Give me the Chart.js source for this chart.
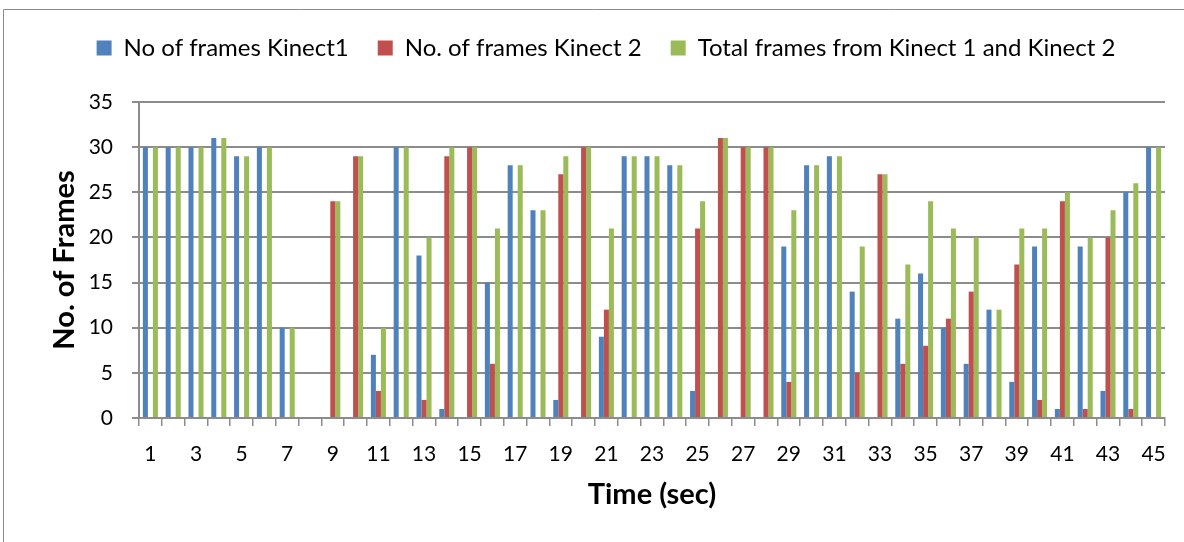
<!DOCTYPE html>
<html>
<head>
<meta charset="utf-8">
<title>Frames per second</title>
<script src="https://cdn.jsdelivr.net/npm/chart.js@4.4.1/dist/chart.umd.min.js"></script>
<style>
    html, body { margin: 0; padding: 0; background: #fff; }
    #wrap { width: 1184px; height: 542px; }
</style>
</head>
<body>
<div id="wrap"><canvas id="frames" width="1184" height="542"></canvas></div>
<script>
// Time axis (seconds)
const seconds = ['1', '2', '3', '4', '5', '6', '7', '8', '9', '10',
    '11', '12', '13', '14', '15', '16', '17', '18', '19', '20',
    '21', '22', '23', '24', '25', '26', '27', '28', '29', '30',
    '31', '32', '33', '34', '35', '36', '37', '38', '39', '40',
    '41', '42', '43', '44', '45'];

// Frames captured per second, null = no frames from that sensor
const kinect1Frames = [30, 30, 30, 31, 29, 30, 10, null, null, null,
    7, 30, 18, 1, null, 15, 28, 23, 2, null,
    9, 29, 29, 28, 3, null, null, null, 19, 28,
    29, 14, null, 11, 16, 10, 6, 12, 4, 19,
    1, 19, 3, 25, 30];

const kinect2Frames = [null, null, null, null, null, null, null, null, 24, 29,
    3, null, 2, 29, 30, 6, null, null, 27, 30,
    12, null, null, null, 21, 31, 30, 30, 4, null,
    null, 5, 27, 6, 8, 11, 14, null, 17, 2,
    24, 1, 20, 1, null];

const totalFrames = [30, 30, 30, 31, 29, 30, 10, null, 24, 29,
    10, 30, 20, 30, 30, 21, 28, 23, 29, 30,
    21, 29, 29, 28, 24, 31, 30, 30, 23, 28,
    29, 19, 27, 17, 24, 21, 20, 12, 21, 21,
    25, 20, 23, 26, 30];

const yTicks = [0, 5, 10, 15, 20, 25, 30, 35];

const FONT = 'Lato, "Open Sans", sans-serif';
const GRID = '#8c8c8c';

// Thin outer frame around the whole chart
const outerFrame = {
    id: 'outerFrame',
    beforeDraw(chart) {
        const ctx = chart.ctx;
        ctx.save();
        ctx.fillStyle = '#fff';
        ctx.fillRect(0, 0, chart.width, chart.height);
        ctx.strokeStyle = '#8c8c8c';
        ctx.lineWidth = 1;
        ctx.beginPath();
        ctx.moveTo(3.5, chart.height);
        ctx.lineTo(3.5, 9.5);
        ctx.lineTo(chart.width, 9.5);
        ctx.stroke();
        ctx.restore();
    }
};

// Reserve a fixed band for the legend above the plot
const legendBand = {
    id: 'legendBand',
    beforeInit(chart) {
        if (!chart.legend) return;
        const fit = chart.legend.fit;
        chart.legend.fit = function () {
            fit.call(this);
            this.height = 95;
        };
    }
};

new Chart(document.getElementById('frames'), {
    type: 'bar',
    data: {
        labels: seconds,
        datasets: [
            { label: 'No of frames Kinect1', data: kinect1Frames, backgroundColor: '#4f81bd' },
            { label: 'No. of frames Kinect 2', data: kinect2Frames, backgroundColor: '#c0504d' },
            { label: 'Total frames from Kinect 1 and Kinect 2', data: totalFrames, backgroundColor: '#9bbb59' }
        ]
    },
    options: {
        responsive: false,
        animation: false,
        layout: { padding: { left: 47, right: 19, top: 7, bottom: 0 } },
        datasets: {
            bar: { categoryPercentage: 0.66, barPercentage: 1, borderWidth: 0 }
        },
        plugins: {
            tooltip: { enabled: false },
            legend: {
                position: 'top',
                align: 'center',
                labels: {
                    color: '#000',
                    font: { family: FONT, size: 24 },
                    boxWidth: 15,
                    boxHeight: 15,
                    padding: 29
                }
            }
        },
        scales: {
            x: {
                offset: true,
                afterFit: (scale) => { scale.height = 124; },
                grid: {
                    offset: true,
                    drawOnChartArea: false,
                    drawTicks: true,
                    tickLength: 8,
                    color: GRID,
                    lineWidth: 1.5
                },
                border: { color: GRID, width: 2 },
                ticks: {
                    autoSkip: false,
                    maxRotation: 0,
                    padding: 16,
                    color: '#000',
                    font: { family: FONT, size: 21 },
                    callback: function (value, index) {
                        return index % 2 === 0 ? this.getLabelForValue(value) : '';
                    }
                },
                title: {
                    display: true,
                    text: 'Time (sec)',
                    color: '#000',
                    font: { family: FONT, size: 29, weight: 'bold' },
                    padding: { top: 0, bottom: 30 }
                }
            },
            y: {
                min: yTicks[0],
                max: yTicks[yTicks.length - 1],
                afterFit: (scale) => { scale.width = 92; },
                afterBuildTicks: (scale) => { scale.ticks = yTicks.map(v => ({ value: v })); },
                grid: {
                    color: GRID,
                    lineWidth: 2,
                    tickLength: 7
                },
                border: { color: GRID, width: 2 },
                ticks: {
                    padding: 19,
                    color: '#000',
                    font: { family: FONT, size: 21 }
                },
                title: {
                    display: true,
                    text: 'No. of Frames',
                    color: '#000',
                    font: { family: FONT, size: 29, weight: 'bold' },
                    padding: { top: 0, bottom: 0 }
                }
            }
        }
    },
    plugins: [outerFrame, legendBand]
});
</script>
</body>
</html>
